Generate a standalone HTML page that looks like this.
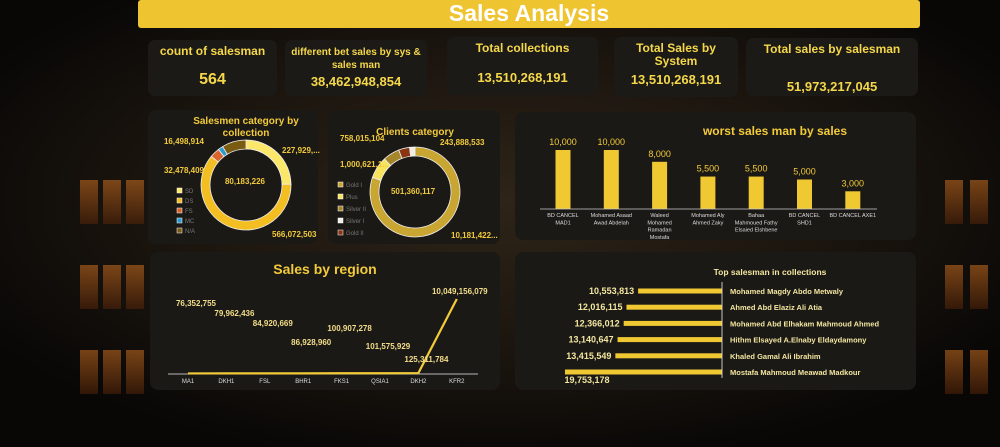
<!DOCTYPE html>
<html><head><meta charset="utf-8"><style>
html,body{margin:0;padding:0;background:#0b0908;}
svg{display:block;font-family:"Liberation Sans Narrow","Liberation Sans",sans-serif;}
</style></head><body>
<svg id="s" width="1000" height="447" viewBox="0 0 1000 447" xmlns="http://www.w3.org/2000/svg">
<defs>
<radialGradient id="glow" cx="0.5" cy="0.45" r="0.6"><stop offset="0" stop-color="#2e2418"/><stop offset="0.6" stop-color="#1a140e"/><stop offset="1" stop-color="#080706"/></radialGradient>
<linearGradient id="win" x1="0" y1="0" x2="0" y2="1"><stop offset="0" stop-color="#e07a22"/><stop offset="1" stop-color="#5a2608"/></linearGradient>
</defs>
<rect width="1000" height="447" fill="url(#glow)"/>
<g id="windows"></g>
<rect x="138" y="0" width="782" height="28" rx="3" fill="#EEC430"/>
<text x="529" y="21" text-anchor="middle" font-size="23" font-weight="bold" fill="#fff">Sales Analysis</text>
<g id="cards"></g>
<g>
<rect x="148" y="110" width="170" height="134" rx="8" fill="#1b1916"/>
<rect x="328" y="110" width="172" height="134" rx="8" fill="#1b1916"/>
<rect x="515" y="112" width="401" height="128" rx="8" fill="#1b1916"/>
<rect x="150" y="252" width="350" height="138" rx="8" fill="#1b1916"/>
<rect x="515" y="252" width="401" height="138" rx="8" fill="#1b1916"/>
</g>
<g id="d1"></g><g id="d2"></g><g id="bars"></g><g id="line"></g><g id="hbars"></g>
</svg>
<script>
const NS="http://www.w3.org/2000/svg";
const svg=document.getElementById('s');
function mk(tag,attrs,parent,txt){const e=document.createElementNS(NS,tag);for(const k in attrs)e.setAttribute(k,attrs[k]);if(txt!==undefined)e.textContent=txt;(parent||svg).appendChild(e);return e;}
const GOLD="#F2CB3A";

const wg=document.getElementById('windows');
[[80,180],[80,265],[80,350],[103,180],[103,265],[103,350],[126,180],[126,265],[126,350],[945,180],[945,265],[945,350],[970,180],[970,265],[970,350]].forEach(p=>{
 const r=mk('rect',{x:p[0],y:p[1],width:18,height:44,fill:'url(#win)',opacity:0.5},wg);
 
 
});

const kpiTitles=[["count of salesman"],["different bet sales by sys &","sales man"],["Total collections"],["Total Sales by","System"],["Total sales by salesman"]];
const kpiValues=["564","38,462,948,854","13,510,268,191","13,510,268,191","51,973,217,045"];
const cardBox=[[148,40,129,56],[285,40,142,56],[447,37,151,58],[614,37,124,60],[746,38,172,58]];
const cardValY=[84,86,82,84,91];
const cg=document.getElementById('cards');
kpiTitles.forEach((t,i)=>{
 const b=cardBox[i];
 const r=mk('rect',{x:b[0],y:b[1],width:b[2],height:b[3],rx:7,fill:'#1c1a17'},cg);
 
 
 const cx=b[0]+b[2]/2;
 t.forEach((ln,j)=>{
  const tt=mk('text',{x:cx,y:b[1]+15+j*13,'text-anchor':'middle','font-size':t.length>1&&i==1?10:12,'font-weight':'bold',fill:'#F5D84A'},cg,ln);
  
  
 });
 const v=mk('text',{x:cx,y:cardValY[i],'text-anchor':'middle','font-size':i==0?16:13,'font-weight':'bold',fill:'#F5D84A'},cg,kpiValues[i]);
 
 
});

function arc(g,cx,cy,R,r,a0,a1,color){
 const p=(a,rad)=>[cx+rad*Math.sin(a*Math.PI/180),cy-rad*Math.cos(a*Math.PI/180)];
 const l=(a1-a0)>180?1:0;
 const [x0,y0]=p(a0,R),[x1,y1]=p(a1,R),[x2,y2]=p(a1,r),[x3,y3]=p(a0,r);
 return mk('path',{d:`M${x0},${y0}A${R},${R} 0 ${l} 1 ${x1},${y1}L${x2},${y2}A${r},${r} 0 ${l} 0 ${x3},${y3}Z`,fill:color,stroke:'#eee','stroke-width':0.8},g);
}

const d1Cats=["SD","DS","FS","MC","N/A"];
const d1Vals=[227929000,566072503,32478409,16498914,80183226];
const d1Cols=["#FBE76A","#F2BE22","#D9642C","#2B9BD0","#7A5B12"];
const d1Labels=["227,929,...","566,072,503","32,478,409","16,498,914","80,183,226"];
const d1LabelPos=[[282,153,'start'],[272,237,'start'],[204,173,'end'],[204,144,'end'],[245,184,'middle']];
const d2Cats=["Gold I","Plus","Silver II","Gold II","Silver I"];
const d2Vals=[10181422000,1000621100,758015104,501360117,243888533];
const d2Cols=["#C9A632","#F7E45C","#A5862A","#8A3512","#F0EEE6"];
const d2Labels=["10,181,422...","1,000,621,1...","758,015,104","501,360,117","243,888,533"];
const d2LabelPos=[[451,238,'start'],[340,167,'start'],[340,141,'start'],[413,194,'middle'],[440,145,'start']];
const d2LegendOrder=["Gold I","Plus","Silver II","Silver I","Gold II"];

function donut(id,cats,vals,cols,labels,lpos,cx,cy,title,ty,legX,legY,legStep,legOrder,name){
 const g=document.getElementById(id);
 const tot=vals.reduce((a,b)=>a+b,0);let a=0;
 vals.forEach((v,i)=>{const s=v/tot*360;const p=arc(g,cx,cy,45,36,a,a+s,cols[i]);
  
  a+=s;});
 title.forEach((t,j)=>{const e=mk('text',{x:cx,y:ty+j*12,'text-anchor':'middle','font-size':10,'font-weight':'bold',fill:GOLD},g,t);
  
  });
 labels.forEach((l,i)=>{const e=mk('text',{x:lpos[i][0],y:lpos[i][1],'text-anchor':lpos[i][2],'font-size':8,'font-weight':'bold',fill:GOLD},g,l);
  
  });
 legOrder.forEach((c,i)=>{const ci=cats.indexOf(c);
  const r=mk('rect',{x:legX,y:legY+i*legStep-5,width:5,height:5,fill:cols[ci],stroke:'#fff','stroke-width':0.5},g);
  
  
  const t=mk('text',{x:legX+8,y:legY+i*legStep,'font-size':6,fill:'#777'},g,c);
  
  });
}
donut('d1',d1Cats,d1Vals,d1Cols,d1Labels,d1LabelPos,246,185,["Salesmen category by","collection"],124,177,193,10,d1Cats,'salesmen-category');
donut('d2',d2Cats,d2Vals,d2Cols,d2Labels,d2LabelPos,415,192,["Clients category"],135,338,187,12,d2LegendOrder,'clients-category');

const barCats=[["BD CANCEL","MAD1"],["Mohamed Asaad","Awad Abdelah"],["Waleed","Mohamed","Ramadan","Mostafa"],["Mohamed Aly","Ahmed Zaky"],["Bahaa","Mahmoued Fathy","Elsaied Elshbene"],["BD CANCEL","SHD1"],["BD CANCEL AXE1"]];
const barVals=[10000,10000,8000,5500,5500,5000,3000];
const barLabels=["10,000","10,000","8,000","5,500","5,500","5,000","3,000"];
const bg=document.getElementById('bars');
const bx0=563,bstep=48.3,base=209,yScale=v=>base-v/10000*59;
const bt=mk('text',{x:775,y:135,'text-anchor':'middle','font-size':12,'font-weight':'bold',fill:GOLD},bg,"worst sales man by sales");


barVals.forEach((v,i)=>{const x=bx0+i*bstep;
 const r=mk('rect',{x:x-7.5,y:yScale(v),width:15,height:base-yScale(v),fill:'#F0C832'},bg);
 
 
 const l=mk('text',{x:x,y:yScale(v)-5,'text-anchor':'middle','font-size':9,fill:GOLD},bg,barLabels[i]);
 
 
 barCats[i].forEach((ln,j)=>{const t=mk('text',{x:x,y:217+j*7.3,'text-anchor':'middle','font-size':5.5,fill:'#ddd'},bg,ln);
  
  });
});
const bl=mk('line',{x1:540,y1:base,x2:877,y2:base,stroke:'#ccc','stroke-width':0.8},bg);



const regCats=["MA1","DKH1","FSL","BHR1","FKS1","QSIA1","DKH2","KFR2"];
const regVals=[76352755,79962436,84920669,86928960,100907278,101575929,125311784,10049156079];
const regLabels=["76,352,755","79,962,436","84,920,669","86,928,960","100,907,278","101,575,929","125,311,784","10,049,156,079"];
const regLabelY=[306,316,326,345,331,349,362,294];
const lg=document.getElementById('line');
const lx0=188,lstep=38.4,lbase=374,ly=v=>lbase-v/10049156079*75;
const lt=mk('text',{x:325,y:274,'text-anchor':'middle','font-size':14,'font-weight':'bold',fill:GOLD},lg,"Sales by region");


const ax=mk('line',{x1:168,y1:lbase,x2:478,y2:lbase,stroke:'#eee','stroke-width':0.8},lg);


const pts=regVals.map((v,i)=>(lx0+i*lstep)+','+ly(v)).join(' ');
const pl=mk('polyline',{points:pts,fill:'none',stroke:'#F2CB3A','stroke-width':2.2},lg);


regCats.forEach((c,i)=>{const x=lx0+i*lstep;
 const t=mk('text',{x:x,y:383,'text-anchor':'middle','font-size':6,fill:'#ddd'},lg,c);
 
 
 const l=mk('text',{x:i==7?x+3:x+8,y:regLabelY[i],'text-anchor':'middle','font-size':8,'font-weight':'bold',fill:'#F3DE8A'},lg,regLabels[i]);
 
 
});

const topNames=["Mohamed Magdy Abdo Metwaly","Ahmed Abd Elaziz Ali Atia","Mohamed Abd Elhakam Mahmoud Ahmed","Hithm Elsayed A.Elnaby Eldaydamony","Khaled Gamal Ali Ibrahim","Mostafa Mahmoud Meawad Madkour"];
const topVals=[10553813,12016115,12366012,13140647,13415549,19753178];
const topLabels=["10,553,813","12,016,115","12,366,012","13,140,647","13,415,549","19,753,178"];
const hg=document.getElementById('hbars');
const hx=722,hy0=291,hstep=16.2,hs=v=>v/1e6*7.95;
const ht=mk('text',{x:770,y:275,'text-anchor':'middle','font-size':8.5,'font-weight':'bold',fill:'#F3E6A0'},hg,"Top salesman in collections");


topVals.forEach((v,i)=>{const y=hy0+i*hstep;
 const r=mk('rect',{x:hx-hs(v),y:y-2.5,width:hs(v),height:5,fill:'#F0C832'},hg);
 
 
 const last=i==topVals.length-1;
 const l=mk('text',{x:last?hx-hs(v)+22:hx-hs(v)-4,y:last?y+11:y+3,'text-anchor':last?'middle':'end','font-size':9,'font-weight':'bold',fill:'#F3E6A0'},hg,topLabels[i]);
 
 
 const n=mk('text',{x:730,y:y+3,'font-size':7.5,'font-weight':'bold',fill:'#F3E6A0'},hg,topNames[i]);
 
 
});
const hl=mk('line',{x1:hx,y1:282,x2:hx,y2:378,stroke:'#eee','stroke-width':0.8},hg);


</script>
</body></html>
